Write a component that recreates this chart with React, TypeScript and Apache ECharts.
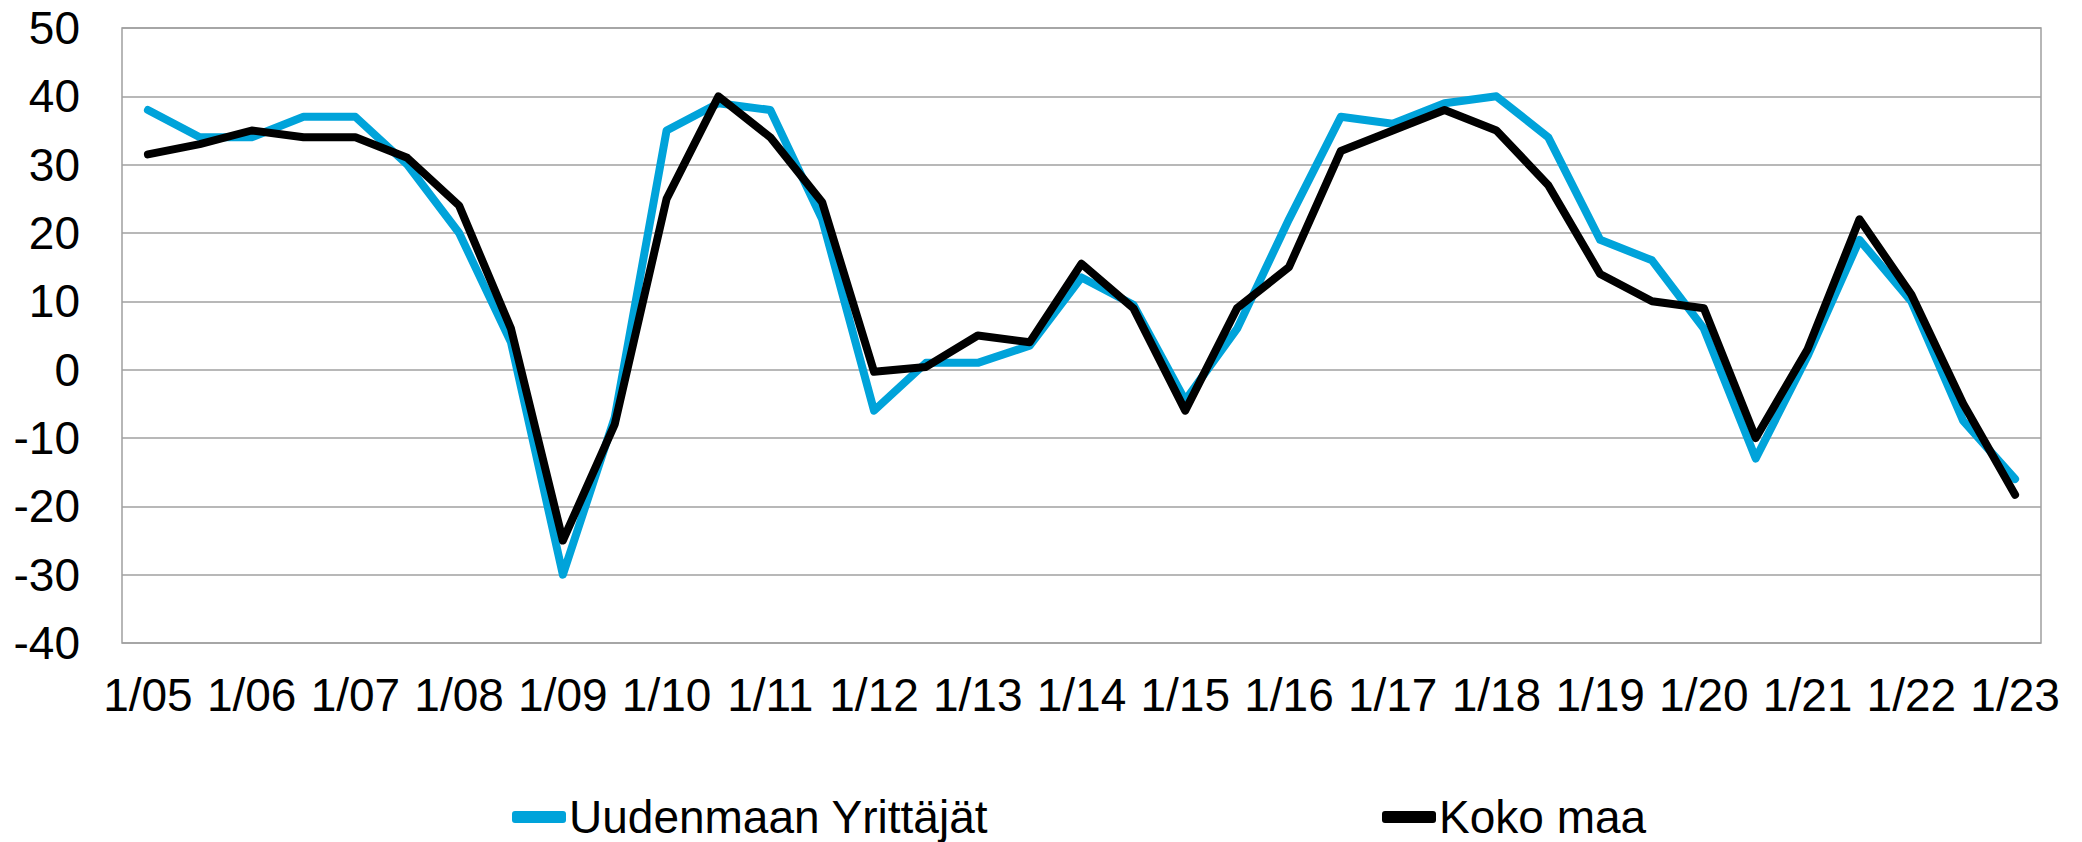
import React, { useEffect, useRef } from "react";
import * as echarts from "echarts";

const categories = [
  "1/05", "7/05", "1/06", "7/06", "1/07", "7/07", "1/08", "7/08", "1/09", "7/09",
  "1/10", "7/10", "1/11", "7/11", "1/12", "7/12", "1/13", "7/13", "1/14", "7/14",
  "1/15", "7/15", "1/16", "7/16", "1/17", "7/17", "1/18", "7/18", "1/19", "7/19",
  "1/20", "7/20", "1/21", "7/21", "1/22", "7/22", "1/23",
];

const uusimaa = [
  38, 34, 34, 37, 37, 30, 20, 4, -30, -7,
  35, 39, 38, 22, -6, 1, 1, 3.5, 13.5, 9.5,
  -4.5, 6, 22, 37, 36, 39, 40, 34, 19, 16,
  6, -13, 2, 19, 10, -7.5, -16,
];

const kokoMaa = [
  31.5, 33, 35, 34, 34, 31, 24, 6, -25, -8,
  25, 40, 34, 24.5, -0.3, 0.4, 5, 4, 15.5, 9,
  -6, 9, 15, 32, 35, 38, 35, 27, 14, 10,
  9, -10, 3, 22, 11, -5, -18.3,
];

const seriesNames = ["Uudenmaan Yrittäjät", "Koko maa"];
const yMin = -40;
const yMax = 50;
const yStep = 10;

const FONT = "'Liberation Sans', Arial, sans-serif";
const BLUE = "#00A3DA";
const BLACK = "#000000";
const GRID = "#A0A0A0";

export default function App() {
  const ref = useRef<HTMLDivElement>(null);

  useEffect(() => {
    if (!ref.current) return;
    const chart = echarts.init(ref.current, undefined, { renderer: "svg" });
    const legendText = { fontSize: 46, color: "#000", fontFamily: FONT, padding: [0, 0, 0, -2] };
    chart.setOption({
      animation: false,
      backgroundColor: "#ffffff",
      grid: {
        left: 122,
        right: 41,
        top: 28,
        bottom: 199,
        show: true,
        borderColor: GRID,
        borderWidth: 1.5,
      },
      legend: [
        {
          data: [seriesNames[0]],
          left: 507,
          top: 789,
          icon: "roundRect",
          itemWidth: 54,
          itemHeight: 12,
          itemGap: 0,
          textStyle: legendText,
        },
        {
          data: [seriesNames[1]],
          left: 1377,
          top: 789,
          icon: "roundRect",
          itemWidth: 54,
          itemHeight: 12,
          itemGap: 0,
          textStyle: legendText,
        },
      ],
      xAxis: {
        type: "category",
        data: categories,
        boundaryGap: true,
        axisLine: { show: false },
        axisTick: { show: false },
        splitLine: { show: false },
        axisLabel: {
          interval: 1,
          margin: 29,
          fontSize: 46,
          color: "#000",
          fontFamily: FONT,
        },
      },
      yAxis: {
        type: "value",
        min: yMin,
        max: yMax,
        interval: yStep,
        axisLine: { show: false },
        axisTick: { show: false },
        splitLine: { show: true, lineStyle: { color: GRID, width: 1.5 } },
        axisLabel: {
          margin: 42,
          fontSize: 46,
          color: "#000",
          fontFamily: FONT,
        },
      },
      series: [
        {
          name: seriesNames[0],
          type: "line",
          data: uusimaa,
          symbol: "none",
          itemStyle: { color: BLUE },
          lineStyle: { color: BLUE, width: 8, cap: "round", join: "round" },
        },
        {
          name: seriesNames[1],
          type: "line",
          data: kokoMaa,
          symbol: "none",
          itemStyle: { color: BLACK },
          lineStyle: { color: BLACK, width: 8, cap: "round", join: "round" },
        },
      ],
    });
    return () => chart.dispose();
  }, []);

  return (
    <div
      ref={ref}
      style={{ position: "fixed", left: 0, top: 0, width: 2082, height: 842 }}
    />
  );
}
